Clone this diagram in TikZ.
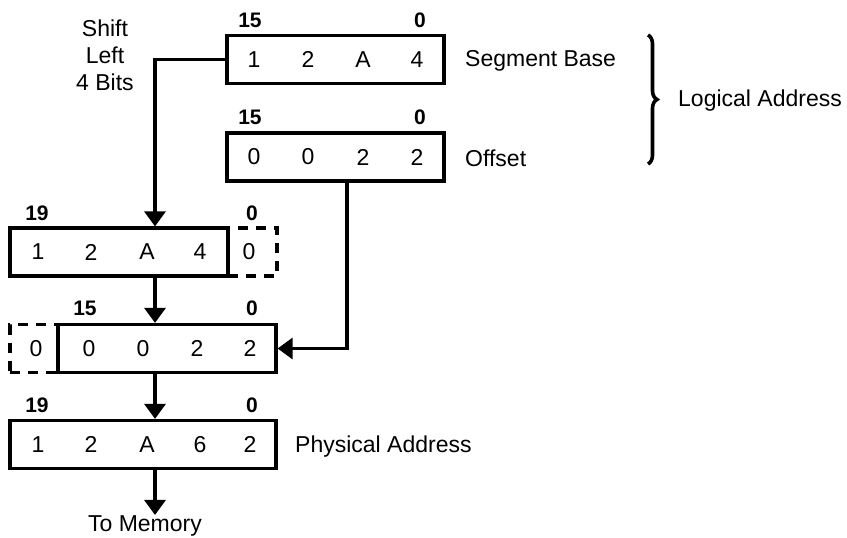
\documentclass[tikz,border=0pt]{standalone}
\usepackage{fontspec}
\setmainfont{Liberation Sans}
\usetikzlibrary{arrows.meta,decorations.pathreplacing}
\begin{document}
\begin{tikzpicture}[x=1pt,y=-1pt,
  reg/.style={draw, line width=3.2pt, minimum height=48pt, inner sep=0pt},
  ghost/.style={draw, line width=3.2pt, dash pattern=on 10pt off 8pt, minimum height=48pt, inner sep=0pt},
  dig/.style={font=\fontsize{23}{27}\selectfont, inner sep=0pt},
  bit/.style={font=\fontsize{21}{24}\selectfont\bfseries, inner sep=0pt},
  lbl/.style={font=\fontsize{23}{27}\selectfont, inner sep=0pt, anchor=west},
  conn/.style={line width=3.2pt},
  arr/.style={conn, -{Triangle[length=15pt,width=21pt]}}]
\useasboundingbox (0,0) rectangle (847,538);

% ghost cells (dashed)
\node[ghost, minimum width=49pt] (g2) at (252.5,252) {};
\node[ghost, minimum width=48pt] (g3) at (34,348.5) {};

% registers
\node[reg, minimum width=217pt] (seg) at (335.5,59.5) {};
\node[reg, minimum width=217pt] (off) at (335.5,157) {};
\node[reg, minimum width=218pt] (b2) at (119,252) {};
\node[reg, minimum width=218pt] (b3) at (167,348.5) {};
\node[reg, minimum width=266pt] (b4) at (143,444.5) {};

% digits
\node[dig] (s1) at (254,59.5) {1};
\node[dig] (s2) at (308,59.5) {2};
\node[dig] (s3) at (363,59.5) {A};
\node[dig] (s4) at (417,59.5) {4};

\node[dig] (o1) at (254,157) {0};
\node[dig] (o2) at (308,157) {0};
\node[dig] (o3) at (363,157) {2};
\node[dig] (o4) at (417,157) {2};

\node[dig] (p1) at (38,252) {1};
\node[dig] (p2) at (91,252) {2};
\node[dig] (p3) at (147,252) {A};
\node[dig] (p4) at (200,252) {4};
\node[dig] (p5) at (249,252) {0};

\node[dig] (q0) at (36,348.5) {0};
\node[dig] (q1) at (89,348.5) {0};
\node[dig] (q2) at (143,348.5) {0};
\node[dig] (q3) at (197,348.5) {2};
\node[dig] (q4) at (250,348.5) {2};

\node[dig] (r1) at (38,444.5) {1};
\node[dig] (r2) at (91,444.5) {2};
\node[dig] (r3) at (147,444.5) {A};
\node[dig] (r4) at (200,444.5) {6};
\node[dig] (r5) at (250,444.5) {2};

% bit numbers
\node[bit] (segH) at (250,20) {15};
\node[bit] (segL) at (420,20) {0};
\node[bit] (offH) at (250,117) {15};
\node[bit] (offL) at (420,117) {0};
\node[bit] (b2H) at (37,213) {19};
\node[bit] (b2L) at (252,213) {0};
\node[bit] (b3H) at (85,308) {15};
\node[bit] (b3L) at (252,308) {0};
\node[bit] (b4H) at (37,405) {19};
\node[bit] (b4L) at (252,405) {0};

% labels
\node[lbl] (segT) at (465,61) {Segment Base};
\node[lbl] (offT) at (465,158) {Offset};
\node[lbl] (logT) at (678,101) {Logical Address};
\node[lbl] (phyT) at (295,447) {Physical Address};
\node[dig, align=center, font=\fontsize{23}{27}\selectfont] (shift) at (105,55) {Shift\\Left\\4 Bits};
\node[dig, anchor=base] (mem) at (145,531) {To Memory};

% brace
\draw[line width=3.6pt, decorate, decoration={brace, amplitude=9pt}] (648,35) -- (648,164);

% connectors
\coordinate (spine) at (155,0);
\coordinate (ox) at (347,0);
\draw[arr] (seg.west) -| (b2.north -| spine);
\draw[arr] (b2.south -| spine) -- (b3.north -| spine);
\draw[arr] (b3.south -| spine) -- (b4.north -| spine);
\draw[arr] (b4.south -| spine) -- (mem.north -| spine);
\draw[arr] (off.south -| ox) |- (b3.east);
\end{tikzpicture}
\end{document}
